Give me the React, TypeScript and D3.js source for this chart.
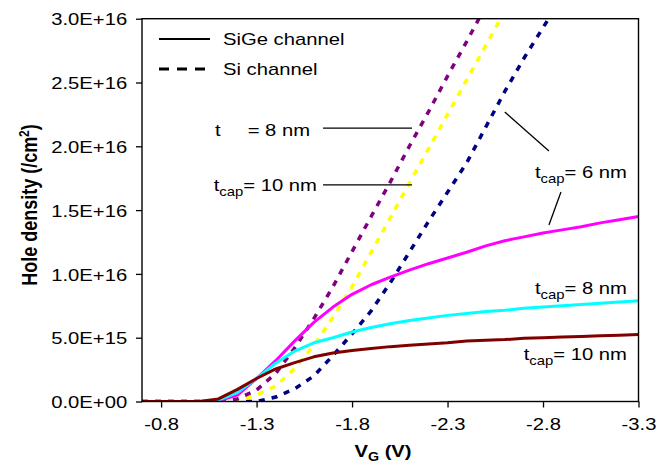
import React from 'react';
import * as d3 from 'd3';

// gate voltage (V), 0.1 V steps
const vg = [-0.7, -0.8, -0.9, -1.0, -1.1, -1.2, -1.3, -1.4, -1.5, -1.6, -1.7, -1.8, -1.9, -2.0,
  -2.1, -2.2, -2.3, -2.4, -2.5, -2.6, -2.7, -2.8, -2.9, -3.0, -3.1, -3.2, -3.3];

// hole density (/cm2), SiGe channel
const sigeCap6 = [0, 0, 0, 0, 0.05e15, 0.5e15, 1.8e15, 3.2e15, 4.75e15, 6.2e15, 7.4e15, 8.4e15, 9.15e15, 9.75e15,
  10.3e15, 10.8e15, 11.25e15, 11.7e15, 12.2e15, 12.6e15, 12.9e15, 13.2e15, 13.45e15, 13.7e15, 14.0e15, 14.25e15, 14.5e15];
const sigeCap8 = [0, 0, 0, 0, 0.1e15, 0.7e15, 1.8e15, 3.0e15, 3.95e15, 4.6e15, 5.0e15, 5.45e15, 5.8e15, 6.1e15,
  6.35e15, 6.55e15, 6.75e15, 6.9e15, 7.05e15, 7.15e15, 7.3e15, 7.4e15, 7.5e15, 7.6e15, 7.7e15, 7.8e15, 7.9e15];
const sigeCap10 = [0, 0, 0, 0, 0.2e15, 0.95e15, 1.8e15, 2.55e15, 3.05e15, 3.5e15, 3.8e15, 4.0e15, 4.15e15, 4.3e15,
  4.4e15, 4.5e15, 4.6e15, 4.75e15, 4.8e15, 4.85e15, 4.95e15, 5.0e15, 5.05e15, 5.1e15, 5.15e15, 5.2e15, 5.25e15];

// hole density (/cm2), Si channel
const siCap6 = [0, 0, 0, 0, 0, 0, 0, 0.35e15, 1.0e15, 2.0e15, 3.6e15, 5.3e15, 7.1e15, 9.3e15,
  11.7e15, 14.1e15, 16.4e15, 18.7e15, 21.5e15, 24.3e15, 26.9e15, 29.3e15, 31.7e15, null, null, null, null];
const siCap8 = [0, 0, 0, 0, 0, 0.2e15, 0.9e15, 2.2e15, 4.2e15, 6.5e15, 9.0e15, 11.75e15, 14.5e15, 17.2e15,
  20.0e15, 22.7e15, 25.5e15, 28.2e15, 31.0e15, null, null, null, null, null, null, null, null];
const siCap10 = [0, 0, 0, 0, 0, 0.05e15, 0.5e15, 1.2e15, 2.6e15, 4.4e15, 6.6e15, 9.0e15, 11.7e15, 14.4e15,
  17.1e15, 19.8e15, 22.5e15, 25.2e15, 27.9e15, 30.6e15, null, null, null, null, null, null, null];

const xTickValues = [-0.8, -1.3, -1.8, -2.3, -2.8, -3.3];
const xTickLabels = ['-0.8', '-1.3', '-1.8', '-2.3', '-2.8', '-3.3'];
const yTickValues = [0, 5e15, 1e16, 1.5e16, 2e16, 2.5e16, 3e16];
const yTickLabels = ['0.0E+00', '5.0E+15', '1.0E+16', '1.5E+16', '2.0E+16', '2.5E+16', '3.0E+16'];

const FONT = '"Liberation Sans", Arial, Helvetica, sans-serif';
const SX = 1.19; // original chart text is stretched horizontally

const App = () => {
  const ref = React.useRef(null);

  React.useEffect(() => {
    const svg = d3.select(ref.current);
    svg.selectAll('*').remove();

    const W = 667, H = 465;
    const left = 142, right = 638.5, top = 18.7, bottom = 401.5;

    const x = d3.scaleLinear().domain([-0.7, -3.3]).range([left, right]);
    const y = d3.scaleLinear().domain([0, 3e16]).range([bottom, top]);

    svg.attr('width', W).attr('height', H).style('font-family', FONT);

    svg.append('rect').attr('width', W).attr('height', H).attr('fill', '#fff');

    svg.append('defs').append('clipPath').attr('id', 'plot-clip')
      .append('rect')
      .attr('x', left).attr('y', top)
      .attr('width', right - left).attr('height', bottom - top);

    // series
    const series = [
      { values: siCap6, color: '#000080', dashed: true },
      { values: siCap10, color: '#FFFF00', dashed: true },
      { values: siCap8, color: '#800080', dashed: true },
      { values: sigeCap6, color: '#FF00FF', dashed: false },
      { values: sigeCap8, color: '#00FFFF', dashed: false },
      { values: sigeCap10, color: '#800000', dashed: false },
    ];

    const line = d3.line()
      .defined((d) => d[1] != null)
      .x((d) => x(d[0]))
      .y((d) => y(d[1]));

    const g = svg.append('g').attr('clip-path', 'url(#plot-clip)');
    series.forEach((s) => {
      g.append('path')
        .datum(vg.map((v, i) => [v, s.values[i]]))
        .attr('d', line)
        .attr('fill', 'none')
        .attr('stroke', s.color)
        .attr('stroke-width', s.dashed ? 3.5 : 3)
        .attr('stroke-dasharray', s.dashed ? '6,7' : null)
        .attr('stroke-linejoin', 'round');
    });

    // frame
    svg.append('rect')
      .attr('x', left).attr('y', top)
      .attr('width', right - left).attr('height', bottom - top)
      .attr('fill', 'none').attr('stroke', '#000').attr('stroke-width', 1.4);

    // axes
    const xAxis = svg.append('g')
      .attr('transform', `translate(0,${bottom})`)
      .call(d3.axisBottom(x).tickValues(xTickValues)
        .tickFormat((d, i) => xTickLabels[i]).tickSize(6).tickPadding(10));
    const yAxis = svg.append('g')
      .attr('transform', `translate(${left},0)`)
      .call(d3.axisLeft(y).tickValues(yTickValues)
        .tickFormat((d, i) => yTickLabels[i]).tickSize(6).tickPadding(6.5));

    [xAxis, yAxis].forEach((a) => {
      a.select('.domain').remove();
      a.selectAll('line').attr('stroke', '#000').attr('stroke-width', 1.3);
      a.selectAll('text')
        .attr('font-family', FONT).attr('font-size', 17).attr('fill', '#000')
        .attr('transform', `scale(${SX},1)`);
    });
    yAxis.selectAll('text').attr('dy', '0.36em');

    // axis titles
    const yt = svg.append('text')
      .attr('transform', `translate(37,205) rotate(-90) scale(1,${SX})`)
      .attr('text-anchor', 'middle')
      .attr('font-size', 18).attr('font-weight', 'bold');
    yt.append('tspan').text('Hole density (/cm');
    yt.append('tspan').attr('font-size', 12).attr('dy', -7).text('2');
    yt.append('tspan').attr('dy', 7).text(')');

    const xt = svg.append('text')
      .attr('transform', `translate(383,457) scale(${SX},1)`)
      .attr('text-anchor', 'middle')
      .attr('font-size', 17).attr('font-weight', 'bold');
    xt.append('tspan').text('V');
    xt.append('tspan').attr('font-size', 12).attr('dy', 4).text('G');
    xt.append('tspan').attr('dy', -4).text(' (V)');

    // legend
    const legend = [
      { label: 'SiGe channel', dash: null, ly: 39 },
      { label: 'Si channel', dash: '10,8', ly: 69 },
    ];
    legend.forEach((l) => {
      svg.append('line')
        .attr('x1', 159).attr('x2', 210).attr('y1', l.ly).attr('y2', l.ly)
        .attr('stroke', '#000').attr('stroke-width', l.dash ? 3 : 2.2)
        .attr('stroke-dasharray', l.dash);
      svg.append('text')
        .attr('transform', `translate(223,${l.ly + 6}) scale(${SX},1)`)
        .attr('font-size', 17).text(l.label);
    });

    // annotations (data coordinates)
    const leaders = [
      [[-1.648, 2.143e16], [-2.114, 2.143e16]],
      [[-1.648, 1.697e16], [-2.114, 1.697e16]],
      [[-2.6, 2.269e16], [-2.831, 1.963e16]],
      [[-2.894, 1.642e16], [-2.831, 1.383e16]],
    ];
    leaders.forEach(([a, b]) => {
      svg.append('line')
        .attr('x1', x(a[0])).attr('y1', y(a[1]))
        .attr('x2', x(b[0])).attr('y2', y(b[1]))
        .attr('stroke', '#000').attr('stroke-width', 1.3);
    });

    const capLabel = (vx, dy, value) => {
      const t = svg.append('text')
        .attr('transform', `translate(${x(vx)},${y(dy)}) scale(${SX},1)`)
        .attr('text-anchor', 'end').attr('font-size', 17);
      t.append('tspan').text('t');
      t.append('tspan').attr('font-size', 12.5).attr('dy', 5).text('cap');
      t.append('tspan').attr('dy', -5).text(`= ${value} nm`);
    };
    capLabel(-1.616, 1.65e16, 10);
    capLabel(-3.239, 1.752e16, 6);
    capLabel(-3.239, 8.42e15, 8);
    capLabel(-3.239, 3.25e15, 10);

    // first label in the original lost its subscript
    svg.append('text')
      .attr('transform', `translate(${x(-1.082)},${y(2.081e16)}) scale(${SX},1)`)
      .attr('font-size', 17).text('t');
    svg.append('text')
      .attr('transform', `translate(${x(-1.58)},${y(2.081e16)}) scale(${SX},1)`)
      .attr('text-anchor', 'end').attr('font-size', 17).text('= 8 nm');
  }, []);

  return <svg ref={ref} style={{ position: 'absolute', left: 0, top: 0 }}></svg>;
};

export default App;
